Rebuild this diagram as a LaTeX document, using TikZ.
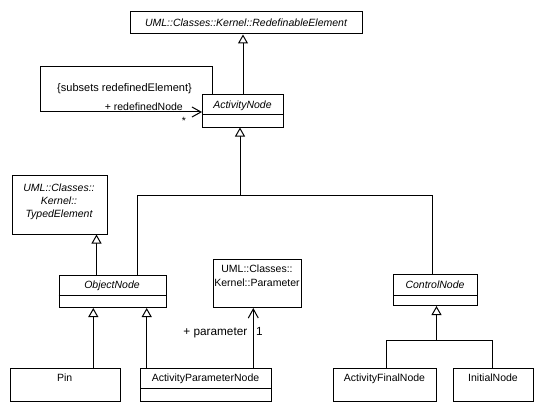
\documentclass[tikz,border=0pt]{standalone}
\usepackage{fontspec}
\setmainfont{Liberation Sans}
\usetikzlibrary{arrows.meta,calc}
\begin{document}
\begin{tikzpicture}[x=1pt,y=-1pt,
  cls/.style={draw, line width=1pt, inner sep=0pt, anchor=north west},
  txt/.style={inner sep=0pt, text height=7.6pt, text depth=0pt, font=\fontsize{10.5}{12}\selectfont},
  itxt/.style={txt, font=\fontsize{10.5}{12}\selectfont\itshape},
  btxt/.style={inner sep=0pt, text height=8.6pt, text depth=0pt, font=\fontsize{11.8}{14}\selectfont},
  ln/.style={line width=1pt},
  gen/.style={ln, -{Triangle[open, length=9pt, width=10pt, fill=white]}},
  assoc/.style={ln, -{Straight Barb[length=9pt, width=10pt]}}]
\useasboundingbox (0,0) rectangle (544,412);
\fill[white] (0,0) rectangle (544,412);

% boxes
\node[cls, minimum width=232pt, minimum height=22pt] (re) at (130,11.5) {};
\node[cls, minimum width=81pt, minimum height=32pt] (an) at (202,94.5) {};
\node[cls, minimum width=95pt, minimum height=58.5pt] (te) at (11.5,175) {};
\node[cls, minimum width=107.5pt, minimum height=32pt] (on) at (58.5,275) {};
\node[cls, minimum width=88pt, minimum height=48pt] (par) at (213,259) {};
\node[cls, minimum width=84pt, minimum height=31pt] (cn) at (393,274) {};
\node[cls, minimum width=109.5pt, minimum height=33pt] (pin) at (10,368) {};
\node[cls, minimum width=131pt, minimum height=33pt] (apn) at (140,368) {};
\node[cls, minimum width=103pt, minimum height=33pt] (afn) at (333,368) {};
\node[cls, minimum width=80pt, minimum height=33pt] (in) at (453,368) {};

% compartments
\draw[ln] ($(an.north west)+(0,20.5)$) -- ($(an.north east)+(0,20.5)$);
\draw[ln] ($(on.north west)+(0,20.5)$) -- ($(on.north east)+(0,20.5)$);
\draw[ln] ($(cn.north west)+(0,21)$) -- ($(cn.north east)+(0,21)$);
\draw[ln] ($(apn.north west)+(0,20)$) -- ($(apn.north east)+(0,20)$);

% texts
\node[itxt] (re-t) at (246,22.5) {UML::Classes::Kernel::RedefinableElement};
\node[itxt] (an-t) at (242.5,104.5) {ActivityNode};
\node[itxt] (te-1) at (59,188) {UML::Classes::};
\node[itxt] (te-2) at (59,201) {Kernel::};
\node[itxt] (te-3) at (59,213.5) {TypedElement};
\node[itxt] (on-t) at (112,285) {ObjectNode};
\node[txt] (par-1) at (257,269) {UML::Classes::};
\node[txt] (par-2) at (257,283) {Kernel::Parameter};
\node[itxt] (cn-t) at (435,285) {ControlNode};
\node[txt] (pin-t) at (64.75,378) {Pin};
\node[txt] (apn-t) at (205.5,378) {ActivityParameterNode};
\node[txt] (afn-t) at (384.5,378) {ActivityFinalNode};
\node[txt] (in-t) at (493,378) {InitialNode};

% generalizations
\draw[gen] (an.north) -- (an.north |- re.south);
\coordinate (j) at (240,195);
\draw[gen] (j) -- (j |- an.south);
\coordinate (jl) at (137,195);
\coordinate (jr) at (432,195);
\draw[ln] (jl |- on.north) -- (jl) -- (jr) -- (jr |- cn.north);
\coordinate (g) at (96.5,0);
\draw[gen] (g |- on.north) -- (g |- te.south);
\coordinate (p1) at (93.3,0);
\draw[gen] (p1 |- pin.north) -- (p1 |- on.south);
\coordinate (p2) at (146.7,0);
\draw[gen] (p2 |- apn.north) -- (p2 |- on.south);
\coordinate (cj) at (436.5,340);
\coordinate (cl) at (386.5,340);
\coordinate (cr) at (492.5,340);
\draw[gen] (cj) -- (cj |- cn.south);
\draw[ln] (cl |- afn.north) -- (cl) -- (cr) -- (cr |- in.north);

% associations
\coordinate (a) at (253.3,0);
\draw[assoc] (a |- apn.north) -- (a |- par.south);
\node[btxt, anchor=east] (param) at (247.5,331) {+ parameter};
\node[btxt] (one) at (259.5,331) {1};

\coordinate (l1) at (212,66.7);
\coordinate (l2) at (40.7,112);
\draw[assoc] (l1 |- an.north) -- (l1) -- (l1 -| l2) -- (l2) -- (l2 -| an.west);
\node[txt, font=\fontsize{11}{13}\selectfont] (sub) at (124.5,88) {\{subsets redefinedElement\}};
\node[txt, anchor=east] (rn) at (183,107) {+ redefinedNode};
\node[txt] (star) at (184,121) {*};
\end{tikzpicture}
\end{document}
